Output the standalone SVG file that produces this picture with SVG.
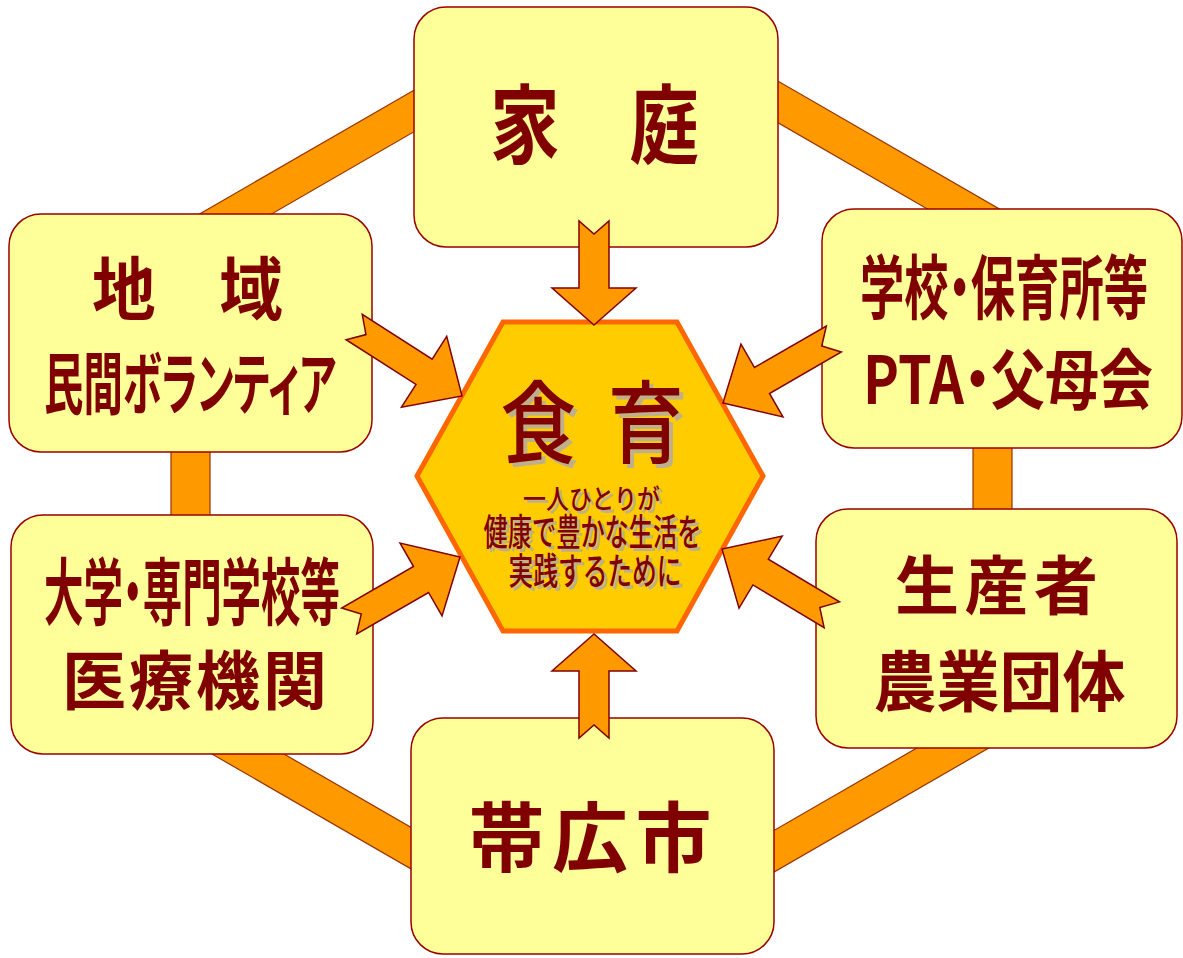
<svg xmlns="http://www.w3.org/2000/svg" xmlns:xlink="http://www.w3.org/1999/xlink" width="1183" height="958" viewBox="0 0 1183 958">
<style>
.bar{fill:#FF9900;stroke:#993300;stroke-width:1.2}
.box{fill:#FFFF99;stroke:#990000;stroke-width:1.5}
.arw{fill:#FF9900;stroke:#800000;stroke-width:1.5;stroke-linejoin:miter}
.t{font-family:"Noto Sans CJK JP","Noto Sans CJK SC",sans-serif;font-weight:bold;fill:#800000;text-anchor:middle}
.p{font-feature-settings:"palt" 1}
.c{font-family:"Noto Sans CJK JP","Noto Sans CJK SC",sans-serif;font-weight:500;text-anchor:middle}
.sh{fill:#C0B08A}
.fg{fill:#800000}
</style>
<defs>
<path id="av" class="arw" d="M0,0 L-37,-42 L-37,-15 L-104,-15 L-91,0 L-104,15 L-37,15 L-37,42 Z"/>
<path id="ad" class="arw" d="M0,0 L-45,-42 L-45,-15 L-128,-15 L-114,0 L-128,15 L-45,15 L-45,42 Z"/>
</defs>
<rect width="1183" height="958" fill="#FFFFFF"/>
<g id="ring">
<rect class="bar" x="0" y="-18" width="335" height="36" transform="translate(190,240.3) rotate(-30)"/>
<rect class="bar" x="0" y="-18" width="358" height="36" transform="translate(700,56.9) rotate(30)"/>
<rect class="bar" x="171" y="430" width="39" height="100"/>
<rect class="bar" x="973" y="430" width="39" height="100"/>
<rect class="bar" x="0" y="-18" width="312" height="36" transform="translate(200,726.3) rotate(30)"/>
<rect class="bar" x="0" y="-18" width="346" height="36" transform="translate(700,894) rotate(-30)"/>
</g>
<g id="n-katei">
<rect class="box" x="414" y="7" width="364" height="240" rx="32"/>
<text class="t" x="594.5" y="157" font-size="86" textLength="209" lengthAdjust="spacingAndGlyphs">家　庭</text>
</g>
<g id="n-chiiki">
<rect class="box" x="9" y="214" width="363" height="238" rx="32"/>
<text class="t" x="187.5" y="315" font-size="69" textLength="191" lengthAdjust="spacingAndGlyphs">地　域</text>
<text class="t p" x="190" y="409" font-size="68" textLength="292" lengthAdjust="spacingAndGlyphs">民間ボランティア</text>
</g>
<g id="n-gakko">
<rect class="box" x="822" y="209" width="360" height="239" rx="32"/>
<text class="t p" x="1004" y="314" font-size="70" textLength="288" lengthAdjust="spacingAndGlyphs">学校・保育所等</text>
<text class="t p" x="1008" y="404" font-size="66" textLength="290" lengthAdjust="spacingAndGlyphs">PTA・父母会</text>
</g>
<g id="n-daigaku">
<rect class="box" x="11" y="515" width="362" height="239" rx="32"/>
<text class="t p" x="192" y="619" font-size="73" textLength="296" lengthAdjust="spacingAndGlyphs">大学・専門学校等</text>
<text class="t" x="194.5" y="704" font-size="64" textLength="265" lengthAdjust="spacing">医療機関</text>
</g>
<g id="n-seisan">
<rect class="box" x="816" y="509" width="361" height="239" rx="32"/>
<text class="t" x="996.5" y="609" font-size="64" textLength="203" lengthAdjust="spacing">生産者</text>
<text class="t" x="999.5" y="706" font-size="66" textLength="252" lengthAdjust="spacingAndGlyphs">農業団体</text>
</g>
<g id="n-obihiro">
<rect class="box" x="411" y="718" width="363" height="236" rx="32"/>
<text class="t" x="590" y="866" font-size="76" textLength="243" lengthAdjust="spacing">帯広市</text>
</g>
<g id="n-shokuiku">
<polygon points="417,476 503,322 677,322 763,476 677,631 503,631" fill="#FFCC00" stroke="#FF6600" stroke-width="5"/>
<text class="c sh" transform="translate(596,460) scale(0.84,1)" x="0" y="0" font-size="90" textLength="218" lengthAdjust="spacing">食 育</text>
<text class="c fg" transform="translate(592,456) scale(0.84,1)" x="0" y="0" font-size="90" textLength="218" lengthAdjust="spacing">食 育</text>
<text class="c sh" x="594.5" y="512" font-size="27" textLength="137" lengthAdjust="spacingAndGlyphs">一人ひとりが</text>
<text class="c fg" x="591.5" y="509" font-size="27" textLength="137" lengthAdjust="spacingAndGlyphs">一人ひとりが</text>
<text class="c sh" x="595.5" y="549" font-size="37" textLength="218" lengthAdjust="spacingAndGlyphs">健康で豊かな生活を</text>
<text class="c fg" x="592.5" y="546" font-size="37" textLength="218" lengthAdjust="spacingAndGlyphs">健康で豊かな生活を</text>
<text class="c sh" x="598" y="588" font-size="37" textLength="173" lengthAdjust="spacingAndGlyphs">実践するために</text>
<text class="c fg" x="595" y="585" font-size="37" textLength="173" lengthAdjust="spacingAndGlyphs">実践するために</text>
</g>
<g id="arrows">
<use href="#av" transform="translate(594,325) rotate(90)"/>
<use href="#av" transform="translate(594,634) rotate(-90)"/>
<use href="#ad" transform="translate(462,396) rotate(32.6)"/>
<use href="#ad" transform="translate(723,403) rotate(150)"/>
<use href="#ad" transform="translate(460,557) rotate(-30)"/>
<use href="#ad" transform="translate(722,549) rotate(210.9)"/>
</g>
</svg>
